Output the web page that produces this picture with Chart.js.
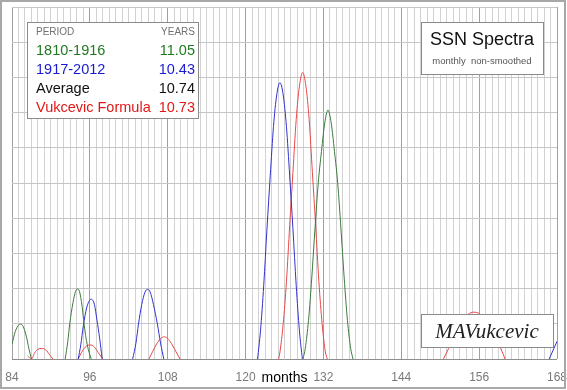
<!DOCTYPE html>
<html>
<head>
<meta charset="utf-8">
<script src="https://cdn.jsdelivr.net/npm/chart.js@4"></script>
<style>
  body { margin: 0; background: #fff; overflow: hidden; }
  canvas { display: block; }
</style>
</head>
<body>
<canvas id="ssnChart" width="567" height="390"></canvas>
<script>
// months / spectral amplitude (null = gap between lobes)
const greenMonths = [84, 84.5, 85, 85.3, 85.7, 86.2, 86.6, 87.0, null,
  92.2, 92.6, 92.9, 93.4, 93.8, 94.1, 94.4, 94.8, 95.1, 95.6, 96.2, null,
  128.85, 129.2, 129.7, 130.2, 130.7, 131.2, 131.7, 132.2, 132.7, 133.2, 133.7, 134.2, 134.7, 135.2, 135.7, 136.2, 136.55];
const greenValues = [4.2, 7.8, 9.6, 9.9, 9.3, 6.5, 3, 0, null,
  0, 5, 10, 16, 19.2, 19.9, 19.2, 15, 10, 4, 0, null,
  0, 3, 11, 23, 37, 50, 59, 67, 70.7, 67, 59, 50, 37, 23, 11, 3, 0];

const blueMonths = [94.2, 94.6, 95.0, 95.5, 96.2, 96.7, 97.1, 97.5, 97.9, null,
  102.6, 103.1, 103.5, 104.0, 104.5, 104.9, 105.3, 105.8, 106.4, 106.9, 107.4, null,
  121.85, 122.3, 122.8, 123.3, 123.8, 124.3, 124.8, 125.3, 125.8, 126.3, 126.8, 127.3, 127.8, 128.3, 128.75, null,
  166.8, 167.4, 168];
const blueValues = [0, 4, 9.5, 14.5, 17.0, 15.5, 11, 6, 0, null,
  0, 4.5, 10, 15.5, 19, 19.8, 19, 15.5, 10, 4.5, 0, null,
  0, 8, 21, 37, 52, 66, 75, 78.5, 75, 66, 52, 37, 21, 8, 0, null,
  0, 2.5, 5];

const redMonths = [86.4, 87.0, 87.5, 88.0, 88.6, 89.2, 89.8, 90.3, null,
  94.2, 94.7, 95.3, 96.0, 96.7, 97.3, 98.0, null,
  105.1, 105.7, 106.3, 106.9, 107.5, 108.1, 108.7, 109.3, 109.9, null,
  125.1, 125.3, 125.8, 126.3, 126.8, 127.3, 127.8, 128.3, 128.8, 129.3, 129.8, 130.3, 130.8, 131.3, 131.8, 132.3, 132.6, null,
  150.5, 151.3, 152.3, 153.3, 154.3, 155.2, 156.1, 157.1, 158.1, 159.1, 160.0];
const redValues = [0.9, 0, 1.8, 2.8, 3.0, 2.6, 1.2, 0, null,
  0, 1.8, 3.4, 4.0, 3.4, 1.8, 0, null,
  0, 2.2, 4.3, 5.8, 6.3, 5.6, 4.0, 2.0, 0, null,
  0, 2, 10, 22, 38, 53, 68, 77.5, 81.4, 77.5, 68, 53, 38, 22, 10, 2, 0, null,
  0, 3, 7, 10.5, 12.7, 13.3, 12.8, 10.8, 7.5, 4, 0];

const xTickLabels = [84, 96, 108, 120, 132, 144, 156, 168];
const xTitleAt = 126;
const xTitle = 'months';

const periods = ['1810-1916', '1917-2012', 'Average', 'Vukcevic Formula'];
const years = ['11.05', '10.43', '10.74', '10.73'];
const rowColors = ['#1f7a1f', '#1a1ad0', '#111111', '#e01818'];

function toPoints(months, values) {
  return months.map((m, i) => ({ x: m, y: values[i] }));
}

const boxes = {
  id: 'boxes',
  afterDraw(chart) {
    const c = chart.ctx;
    c.save();
    // outer frame
    c.strokeStyle = '#a8a8a8';
    c.lineWidth = 2;
    c.strokeRect(1, 1, 564, 387);

    c.lineWidth = 1;
    c.strokeStyle = '#8a8a8a';
    c.fillStyle = '#fff';
    // period table
    c.fillRect(27.5, 22.5, 171, 96);
    c.strokeRect(27.5, 22.5, 171, 96);
    c.textBaseline = 'middle';
    c.font = '10px "Liberation Sans", Arial, sans-serif';
    c.fillStyle = '#707070';
    c.textAlign = 'left';
    c.fillText('PERIOD', 36, 32.5);
    c.textAlign = 'right';
    c.fillText('YEARS', 195, 32.5);
    c.font = '14.5px "Liberation Sans", Arial, sans-serif';
    periods.forEach((p, i) => {
      const y = 50.5 + i * 19.3;
      c.fillStyle = rowColors[i];
      c.textAlign = 'left';
      c.fillText(p, 36, y);
      c.textAlign = 'right';
      c.fillText(years[i], 195, y);
    });

    // title box
    c.fillStyle = '#fff';
    c.fillRect(421.5, 22.5, 122, 52);
    c.strokeRect(421.5, 22.5, 122, 52);
    c.textAlign = 'center';
    c.fillStyle = '#111';
    c.font = '18px "Liberation Sans", Arial, sans-serif';
    c.fillText('SSN Spectra', 482, 40.5);
    c.fillStyle = '#555';
    c.font = '9.5px "Liberation Sans", Arial, sans-serif';
    c.fillText('monthly  non-smoothed', 482, 61);

    // signature box
    c.fillStyle = '#fff';
    c.fillRect(421.5, 314.5, 132, 33);
    c.strokeRect(421.5, 314.5, 132, 33);
    c.fillStyle = '#222';
    c.font = 'italic 21px "Liberation Serif", "DejaVu Serif", serif';
    c.fillText('MAVukcevic', 487, 332);
    c.restore();
  }
};

const line = (months, values, color) => ({
  data: toPoints(months, values),
  borderColor: color,
  borderWidth: 1,
  pointRadius: 0,
  fill: false,
  spanGaps: false,
  cubicInterpolationMode: 'monotone'
});

new Chart(document.getElementById('ssnChart'), {
  type: 'line',
  data: {
    datasets: [
      line(greenMonths, greenValues, '#3c7a3c'),
      line(blueMonths, blueValues, '#3232cc'),
      line(redMonths, redValues, '#e84848')
    ]
  },
  options: {
    responsive: false,
    animation: false,
    layout: { padding: { left: 12, right: 10, top: 7, bottom: 0 } },
    plugins: { legend: { display: false }, tooltip: { enabled: false } },
    scales: {
      x: {
        type: 'linear',
        min: 84,
        max: 168,
        border: { display: false },
        afterFit(scale) {
          scale.height = 31;
          scale.paddingLeft = 0;
          scale.paddingRight = 0;
        },
        grid: {
          drawTicks: false,
          color: ctx => ctx.tick && ctx.tick.value % 12 === 0 ? '#a0a0a0' : '#d2d2d2'
        },
        ticks: {
          stepSize: 1,
          autoSkip: false,
          maxRotation: 0,
          padding: 11,
          color: ctx => ctx.tick && ctx.tick.value === xTitleAt ? '#000' : '#7a7a7a',
          font: ctx => ({
            family: '"Liberation Sans", Arial, sans-serif',
            size: ctx.tick && ctx.tick.value === xTitleAt ? 14 : 12
          }),
          callback: v => v === xTitleAt ? xTitle : (xTickLabels.includes(v) ? String(v) : '')
        }
      },
      y: {
        min: 0,
        max: 100,
        border: { display: false },
        afterFit(scale) { scale.width = 0; },
        grid: {
          drawTicks: false,
          color: ctx => ctx.tick && ctx.tick.value === 0 ? '#8c8c8c' : '#c6c6c6'
        },
        ticks: { stepSize: 10, display: false }
      }
    }
  },
  plugins: [boxes]
});
</script>
</body>
</html>
